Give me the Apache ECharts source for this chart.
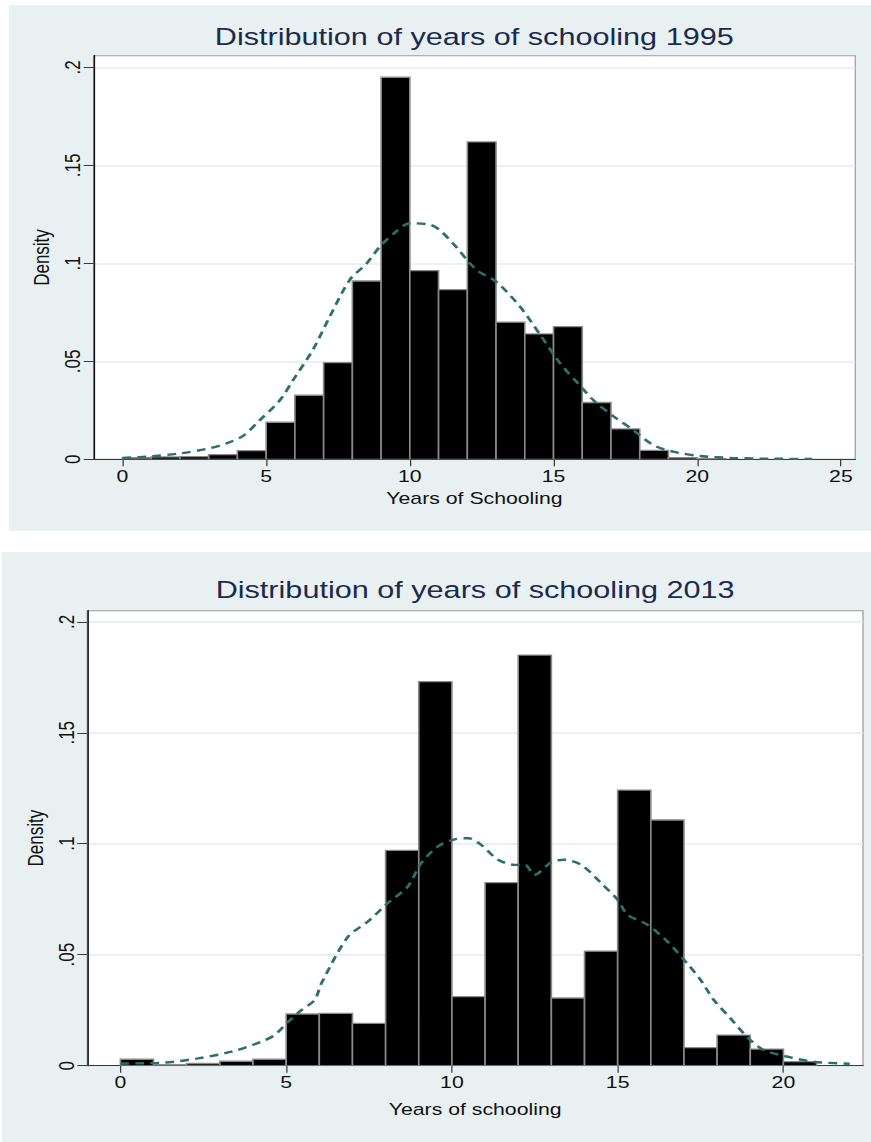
<!DOCTYPE html>
<html>
<head>
<meta charset="utf-8">
<script src="https://cdn.jsdelivr.net/npm/echarts@6/dist/echarts.min.js"></script>
<style>
  html, body { margin: 0; padding: 0; background: #ffffff; width: 871px; height: 1142px; overflow: hidden; }
  #wrap { position: absolute; left: 0; top: 0; width: 696.8px; height: 1142px; transform: scaleX(1.25); transform-origin: 0 0; }
  #c1 { position: absolute; left: 7.2px; top: 5px; width: 689.6px; height: 526px; }
  #c2 { position: absolute; left: 0.8px; top: 552px; width: 696px; height: 590px; }
</style>
</head>
<body>
<div id="wrap">
  <div id="c1"></div>
  <div id="c2"></div>
</div>
<script>
// ---------- data ----------
const title1995 = 'Distribution of years of schooling 1995';
const title2013 = 'Distribution of years of schooling 2013';
const xName1995 = 'Years of Schooling';
const xName2013 = 'Years of schooling';
const yName = 'Density';

const binWidth = 1;
const bins1995 = [0,1,2,3,4,5,6,7,8,9,10,11,12,13,14,15,16,17,18,19,20];
const dens1995 = [0.0008,0.0012,0.0014,0.0024,0.0044,0.0189,0.0327,0.0493,0.091,0.195,0.0963,0.0866,0.162,0.070,0.064,0.0677,0.029,0.0155,0.0046,0.0009,0.0003];

const kdeX1995 = [0,1,2,3,3.6,4.2,4.78,5.47,5.94,6.63,7.22,7.91,8.5,8.96,9.5,10.0,10.7,11.04,11.6,12.09,12.4,13.0,13.83,14.5,15.23,15.9,16.4,17.1,17.77,18.47,19.16,20.1,21.2,22.5,24.0];
const kdeY1995 = [0.0007,0.0015,0.003,0.0055,0.008,0.012,0.020,0.030,0.0405,0.056,0.073,0.0916,0.100,0.1086,0.116,0.1205,0.1197,0.117,0.1086,0.100,0.0958,0.0907,0.078,0.0643,0.049,0.038,0.030,0.0218,0.015,0.0073,0.0039,0.0017,0.0007,0.0003,0.0002];

const bins2013 = [0,1,2,3,4,5,6,7,8,9,10,11,12,13,14,15,16,17,18,19,20];
const dens2013 = [0.0029,0.0005,0.001,0.002,0.0029,0.0233,0.0236,0.0191,0.097,0.173,0.0311,0.0825,0.185,0.0305,0.0516,0.1242,0.1107,0.0081,0.0138,0.0075,0.0018];

const kdeX2013 = [0,1.34,2.34,3.35,4.25,4.65,5.06,5.46,5.86,6.06,6.86,7.47,8.07,8.67,9.07,9.58,10.08,10.5,10.88,11.39,11.89,12.2,12.49,12.99,13.39,13.9,14.5,15.0,15.3,15.9,16.5,17.1,17.5,17.9,18.4,18.9,19.4,19.9,20.9,22.0];
const kdeY2013 = [0.001,0.0014,0.0033,0.0063,0.0108,0.0138,0.0198,0.025,0.0296,0.037,0.058,0.065,0.0733,0.0807,0.0913,0.0988,0.102,0.1025,0.0995,0.0928,0.0905,0.0905,0.086,0.0916,0.0928,0.0905,0.0823,0.0747,0.068,0.0635,0.056,0.046,0.0387,0.0296,0.0214,0.013,0.0071,0.0048,0.0018,0.0009];

const xTicks1995 = [0,5,10,15,20,25];
const xTicks2013 = [0,5,10,15,20];
const yTicks = [0,0.05,0.1,0.15,0.2];

// ---------- styling ----------
const FONT = 'Liberation Sans, Arial, sans-serif';
const BG = '#e9f0f2';
const KDE_COLOR = '#2d6f6a';

function yFmt(v) {
  if (v === 0) return '0';
  return String(+v.toFixed(3)).replace(/^0\./, '.');
}

function buildOption(cfg) {
  const barData = cfg.bins.map((b, i) => [b, cfg.dens[i]]);
  const kdeData = cfg.kx.map((x, i) => [x, cfg.ky[i]]);
  return {
    backgroundColor: BG,
    animation: false,
    title: {
      text: cfg.title,
      left: cfg.titleLeft,
      top: cfg.titleTop,
      textAlign: 'center',
      padding: 0,
      textStyle: { fontFamily: FONT, fontSize: 24.5, fontWeight: 'normal', color: '#1c2a4c' }
    },
    grid: {
      left: cfg.grid.left, right: cfg.grid.right, top: cfg.grid.top, bottom: cfg.grid.bottom,
      show: true, backgroundColor: '#ffffff', borderColor: '#9c9c9c', borderWidth: 1,
      containLabel: false
    },
    xAxis: {
      type: 'value', min: cfg.xMin, max: cfg.xMax,
      name: cfg.xName, nameLocation: 'middle', nameGap: cfg.xNameGap,
      nameTextStyle: { fontFamily: FONT, fontSize: 17, color: '#111' },
      axisLine: { show: true, onZero: false, lineStyle: { color: '#3a3a3a', width: 1.2 } },
      axisTick: { show: true, length: 7, customValues: cfg.xTicks, lineStyle: { color: '#3a3a3a', width: 1 } },
      axisLabel: { customValues: cfg.xTicks, fontFamily: FONT, fontSize: 17, color: '#111', margin: 8 },
      splitLine: { show: false }
    },
    yAxis: {
      type: 'value', min: 0, max: cfg.yMax, interval: 0.05,
      name: yName, nameLocation: 'middle', nameGap: cfg.yNameGap, nameRotate: 90,
      nameTextStyle: { fontFamily: FONT, fontSize: 17, color: '#111' },
      axisLine: { show: true, onZero: false, lineStyle: { color: '#111', width: 1.2 } },
      axisTick: { show: true, length: 8, customValues: yTicks, lineStyle: { color: '#3a3a3a', width: 1 } },
      axisLabel: { customValues: yTicks, rotate: 90, formatter: yFmt, fontFamily: FONT, fontSize: 17, color: '#111', margin: 8 },
      splitLine: { show: true, lineStyle: { color: '#e4eded', width: 1.5 } }
    },
    series: [
      {
        type: 'custom',
        data: barData,
        encode: { x: 0, y: 1 },
        clip: true,
        renderItem: function (params, api) {
          const x0 = api.value(0);
          const h = api.value(1);
          const pTop = api.coord([x0, h]);
          const pBot = api.coord([x0 + binWidth, 0]);
          return {
            type: 'rect',
            shape: { x: pTop[0], y: pTop[1], width: pBot[0] - pTop[0], height: pBot[1] - pTop[1] },
            style: { fill: '#000000', stroke: '#8a8a8a', lineWidth: 1.3 }
          };
        },
        z: 2
      },
      {
        type: 'line',
        data: kdeData,
        showSymbol: false,
        smooth: 0.3,
        lineStyle: { color: KDE_COLOR, width: 2.4, type: [7, 5] },
        z: 3
      }
    ]
  };
}

const ch1 = echarts.init(document.getElementById('c1'), null, { renderer: 'svg' });
ch1.setOption(buildOption({
  title: title1995, titleLeft: 372.4, titleTop: 19.5,
  grid: { left: 68, right: 12.8, top: 50.7, bottom: 71.7 },
  xMin: -1, xMax: 25.5, xTicks: xTicks1995, xName: xName1995, xNameGap: 30,
  yMax: 0.206, yNameGap: 30,
  bins: bins1995, dens: dens1995, kx: kdeX1995, ky: kdeY1995
}));

const ch2 = echarts.init(document.getElementById('c2'), null, { renderer: 'svg' });
ch2.setOption(buildOption({
  title: title2013, titleLeft: 379.1, titleTop: 24.7,
  grid: { left: 68.8, right: 6.6, top: 58.7, bottom: 76.3 },
  xMin: -1, xMax: 22.4, xTicks: xTicks2013, xName: xName2013, xNameGap: 35,
  yMax: 0.205, yNameGap: 32,
  bins: bins2013, dens: dens2013, kx: kdeX2013, ky: kdeY2013
}));
</script>
</body>
</html>
